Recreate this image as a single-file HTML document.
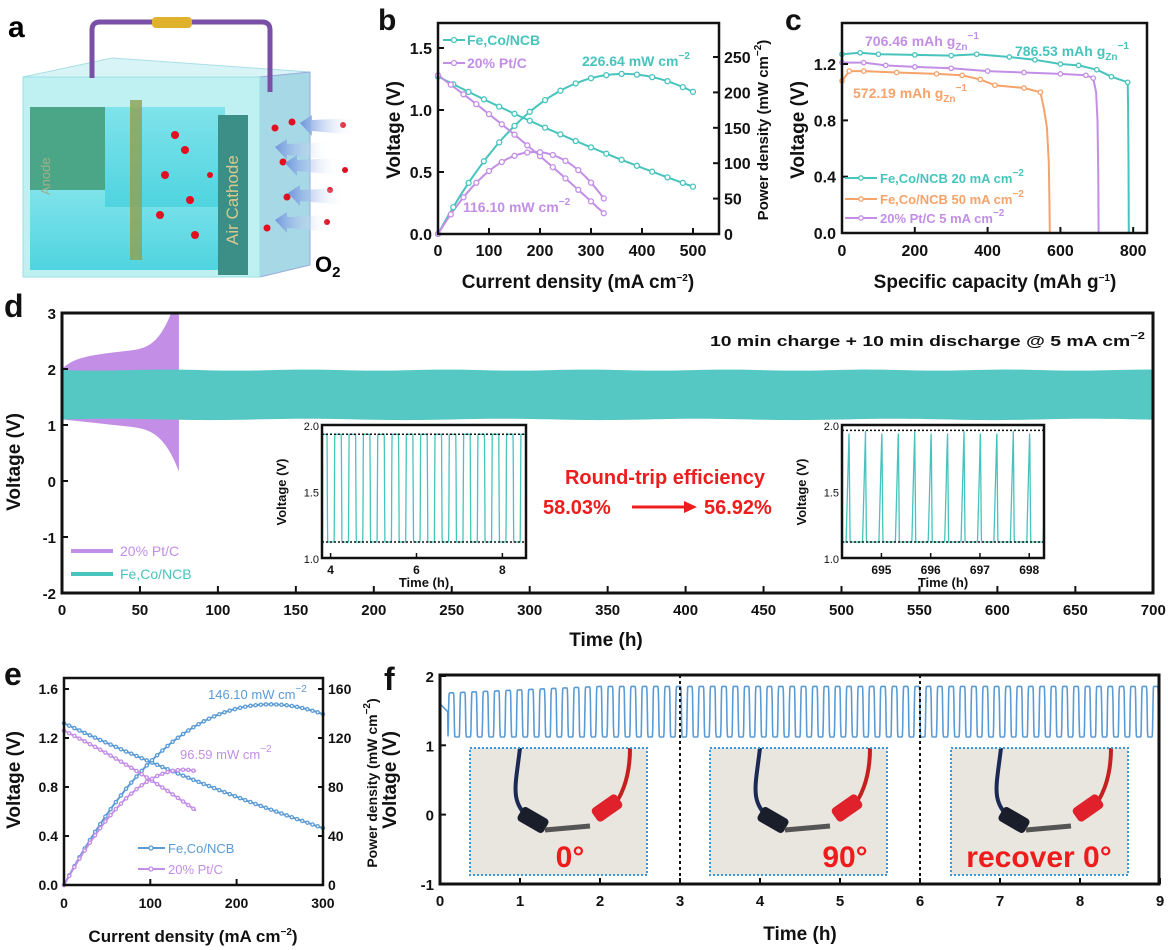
<!DOCTYPE html>
<html><head><meta charset="utf-8"><style>
html,body{margin:0;padding:0;background:#fff}
svg{display:block;font-family:"Liberation Sans",Arial,sans-serif;font-weight:bold}
</style></head><body>
<svg id="s" width="1168" height="950" viewBox="0 0 1168 950" xmlns="http://www.w3.org/2000/svg">
<defs>
<linearGradient id="water" x1="0" y1="0" x2="0" y2="1"><stop offset="0" stop-color="#7fe3ea"/><stop offset="1" stop-color="#4fd4e0"/></linearGradient>
<linearGradient id="arr" x1="1" y1="0" x2="0" y2="0"><stop offset="0" stop-color="#fff" stop-opacity="0"/><stop offset="1" stop-color="#6f95dd"/></linearGradient>
</defs>
<!-- Panel a -->
<text x="8" y="37" font-size="30">a</text>
<polygon points="23,77 112,58 310,72 260,77" fill="#d8f4f6" stroke="#a9dfe6"/>
<polygon points="260,77 310,72 310,265 260,277" fill="#a7d8e6" stroke="#9ad"/>
<rect x="23" y="77" width="237" height="200" fill="#bff0f2" stroke="#9adfe6"/>
<rect x="30" y="107" width="75" height="120" fill="#3e9d7c" opacity="0.9"/>
<rect x="30" y="190" width="200" height="80" fill="url(#water)"/>
<rect x="105" y="107" width="120" height="100" fill="url(#water)"/>
<rect x="130" y="100" width="12" height="160" fill="#8fa050" opacity="0.8"/>
<rect x="218" y="115" width="30" height="160" fill="#3c8f86"/>
<path d="M92 78 V30 Q92 22 100 22 H262 Q270 22 270 30 V92" fill="none" stroke="#7a4fa6" stroke-width="5"/>
<rect x="152" y="17" width="40" height="11" rx="4" fill="#e0b22c"/>
<text transform="translate(50,195) rotate(-90)" font-size="13" font-weight="normal" fill="#9fb08a">Anode</text>
<text transform="translate(238,245) rotate(-90)" font-size="17" font-weight="normal" fill="#d7c991">Air Cathode</text>
<g fill="#e01020">
<circle cx="175" cy="135" r="4"/><circle cx="185" cy="150" r="4"/><circle cx="165" cy="175" r="4"/><circle cx="190" cy="200" r="4"/><circle cx="160" cy="215" r="4"/><circle cx="195" cy="235" r="4"/><circle cx="210" cy="175" r="3"/>
<circle cx="275" cy="128" r="3.5"/><circle cx="292" cy="122" r="3.5"/><circle cx="283" cy="162" r="3.5"/><circle cx="287" cy="197" r="3.5"/><circle cx="267" cy="228" r="3.5"/>
<circle cx="343" cy="125" r="3"/><circle cx="345" cy="170" r="3"/><circle cx="330" cy="190" r="3"/><circle cx="327" cy="222" r="3"/></g>
<g fill="url(#arr)">
<polygon points="300,123 312,115 312,120 355,118 355,135 312,131 312,136"/>
<polygon points="275,147 287,139 287,144 330,142 330,159 287,155 287,160"/>
<polygon points="285,163 297,155 297,160 340,158 340,175 297,171 297,176"/>
<polygon points="288,193 300,185 300,190 345,188 345,205 300,201 300,206"/>
<polygon points="275,220 287,212 287,217 330,215 330,232 287,228 287,233"/>
</g>
<text x="315" y="272" font-size="22">O<tspan font-size="15" dy="5">2</tspan></text>
<g id="plots"></g>
</svg>
<script>
const S=document.getElementById('plots');let H='';
const ad=s=>{H+=s};
function txt(x,y,t,o){o=o||{};ad(`<text x="${x}" y="${y}" font-size="${o.fs||16}" fill="${o.c||'#111'}" text-anchor="${o.a||'start'}"${o.tl?` textLength="${o.tl}" lengthAdjust="spacingAndGlyphs"`:''}${o.rot?` transform="rotate(${o.rot} ${x} ${y})"`:''}${o.fw?` font-weight="${o.fw}"`:''}>${t}</text>`)}
function path(pts,c,w,ex){ad(`<path d="M${pts.map(p=>p[0].toFixed(1)+' '+p[1].toFixed(1)).join('L')}" fill="none" stroke="${c}" stroke-width="${w||2}" stroke-linejoin="round" ${ex||''}/>`)}
function marks(pts,c,r){pts.forEach(p=>ad(`<circle cx="${p[0].toFixed(1)}" cy="${p[1].toFixed(1)}" r="${r||2.5}" fill="#fff" stroke="${c}" stroke-width="1.3"/>`))}
function box(x0,y0,x1,y1,w){ad(`<rect x="${x0}" y="${y0}" width="${x1-x0}" height="${y1-y0}" fill="none" stroke="#111" stroke-width="${w||2.5}"/>`)}
const TE='#47c4bd',PU='#c38ee6',OR='#f5a36a',BL='#5b9bd5';
const sup=s=>`<tspan font-size="10" dy="-7">${s}</tspan>`;

// ===== Panel b =====
{const X=i=>438+i*0.51,Yv=v=>234-v*124,Yp=p=>234-p*0.708;
txt(378,30,'b',{fs:30});
let a=[],b=[],c=[],d=[],ma=[],mb=[],mc=[],md=[];
const fv=i=>1.27-0.0021*i+6.5e-7*i*i, pv=i=>1.28-0.003*i-1.3e-6*i*i;
for(let i=0;i<=500;i+=5){a.push([X(i),Yv(fv(i))]);b.push([X(i),Yp(i*fv(i)*1.05)]);if(i%30==0||i==500){ma.push(a[a.length-1]);mb.push(b[b.length-1]);}}
for(let i=0;i<=325;i+=5){c.push([X(i),Yv(pv(i))]);d.push([X(i),Yp(i*pv(i)*0.92)]);if(i%25==0||i==325){mc.push(c[c.length-1]);md.push(d[d.length-1]);}}
path(a,TE);path(b,TE);path(c,PU);path(d,PU);marks(ma,TE);marks(mb,TE);marks(mc,PU);marks(md,PU);
box(438,23,719,234);
[[0,'0.0'],[0.5,'0.5'],[1,'1.0'],[1.5,'1.5']].forEach(([v,l])=>{ad(`<line x1="438" x2="444" y1="${Yv(v)}" y2="${Yv(v)}" stroke="#111" stroke-width="2"/>`);txt(432,Yv(v)+6,l,{a:'end'})});
[0,50,100,150,200,250].forEach(p=>{ad(`<line x1="719" x2="713" y1="${Yp(p)}" y2="${Yp(p)}" stroke="#111" stroke-width="2"/>`);txt(724,Yp(p)+6,p)});
[0,100,200,300,400,500].forEach(i=>{ad(`<line x1="${X(i)}" x2="${X(i)}" y1="234" y2="228" stroke="#111" stroke-width="2"/>`);txt(X(i),256,i,{a:'middle'})});
txt(578,288,'Current density (mA cm'+sup('−2')+'<tspan dy="7">)</tspan>',{fs:19,a:'middle'});
txt(400,130,'Voltage (V)',{fs:19,a:'middle',rot:-90});
txt(768,130,'Power density (mW cm'+sup('−2')+'<tspan dy="7">)</tspan>',{fs:15,a:'middle',rot:-90});
path([[443,40],[465,40]],TE);marks([[454,40]],TE);txt(467,45,'Fe,Co/NCB',{fs:14,c:TE});
path([[443,63],[465,63]],PU);marks([[454,63]],PU);txt(467,68,'20% Pt/C',{fs:14,c:PU});
txt(582,66,'226.64 mW cm'+sup('−2'),{fs:14,c:TE});
txt(463,212,'116.10 mW cm'+sup('−2'),{fs:14,c:PU});
}
// ===== Panel c =====
{const X=c=>842+c*0.364,Y=v=>233-v*140.8;
txt(785,30,'c',{fs:30});
const te=[[0,1.27],[50,1.28],[100,1.27],[200,1.265],[300,1.26],[370,1.27],[460,1.25],[530,1.23],[600,1.2],[650,1.19],[700,1.16],[740,1.11],[785,1.07]];
const tef=[[785,1.07],[786,0.9],[787,0.5],[788,0]];
const orx=[[0,1.08],[20,1.15],[60,1.15],[150,1.14],[260,1.13],[330,1.12],[380,1.09],[420,1.05],[500,1.03],[545,1.0]];
const orf=[[545,1.0],[555,0.88],[563,0.75],[568,0.5],[570,0.2],[571,0]];
const pu=[[0,1.21],[60,1.21],[120,1.19],[200,1.18],[300,1.17],[400,1.15],[500,1.14],[600,1.13],[670,1.12],[690,1.1]];
const puf=[[690,1.1],[698,1.0],[702,0.8],[704,0.4],[705,0]];
[[orx,orf,OR],[pu,puf,PU],[te,tef,TE]].forEach(([m,f,col])=>{const p=m.map(q=>[X(q[0]),Y(q[1])]);path(p.concat(f.map(q=>[X(q[0]),Y(q[1])])),col);marks(p,col,2.2)});
box(842,23,1147,233);
[[0,'0.0'],[0.4,'0.4'],[0.8,'0.8'],[1.2,'1.2']].forEach(([v,l])=>{ad(`<line x1="842" x2="848" y1="${Y(v)}" y2="${Y(v)}" stroke="#111" stroke-width="2"/>`);txt(836,Y(v)+6,l,{a:'end'})});
[0,200,400,600,800].forEach(c=>{ad(`<line x1="${X(c)}" x2="${X(c)}" y1="233" y2="227" stroke="#111" stroke-width="2"/>`);txt(X(c),256,c,{a:'middle'})});
txt(995,288,'Specific capacity (mAh g'+sup('−1')+'<tspan dy="7">)</tspan>',{fs:19,a:'middle'});
txt(804,130,'Voltage (V)',{fs:19,a:'middle',rot:-90});
txt(865,46,'706.46 mAh g<tspan font-size="10" dy="4">Zn</tspan><tspan font-size="10" dy="-11">−1</tspan>',{fs:14,c:PU});
txt(1015,56,'786.53 mAh g<tspan font-size="10" dy="4">Zn</tspan><tspan font-size="10" dy="-11">−1</tspan>',{fs:14,c:TE});
txt(853,98,'572.19 mAh g<tspan font-size="10" dy="4">Zn</tspan><tspan font-size="10" dy="-11">−1</tspan>',{fs:14,c:OR});
[[178,TE,'Fe,Co/NCB 20 mA cm'],[199,OR,'Fe,Co/NCB 50 mA cm'],[218,PU,'20% Pt/C 5 mA cm']].forEach(([y,col,t])=>{path([[845,y],[877,y]],col);marks([[861,y]],col,2.2);txt(880,y+5,t+sup('−2'),{fs:13,c:col})});
}
// ===== Panel d =====
{const X=t=>62+t*1.559,Y=v=>481-v*56;
txt(4,317,'d',{fs:32});
let up=[],lo=[];
for(let t=0;t<=75;t+=0.5){let e=t>40?Math.pow(t-40,3.5):0;let u=2.0+0.2*(1-Math.exp(-t/8))+0.003*t+4e-6*e;let l=1.1-0.003*t-2.8e-6*e;up.push([X(t),Y(Math.min(u,3))]);lo.push([X(t),Y(Math.max(l,0.15))])}
ad(`<path d="M${up.map(p=>p.join(' ')).join('L')}L${lo.slice().reverse().map(p=>p.join(' ')).join('L')}Z" fill="${PU}"/>`);
let tu=[],tl=[];for(let t=0;t<=700;t+=5){tu.push([X(t),Y(1.98-0.01*Math.sin(t*0.07))]);tl.push([X(t),Y(1.1+0.012*Math.sin(t*0.05))])}
ad(`<path d="M${tu.map(p=>p.join(' ')).join('L')}L${tl.reverse().map(p=>p.join(' ')).join('L')}Z" fill="#55c8c4"/>`);
box(62,313,1153,593,3);
[3,2,1,0,-1,-2].forEach(v=>{ad(`<line x1="62" x2="68" y1="${Y(v)}" y2="${Y(v)}" stroke="#111" stroke-width="2"/>`);txt(56,Y(v)+6,v,{a:'end',fs:15})});
for(let t=0;t<=700;t+=50){ad(`<line x1="${X(t)}" x2="${X(t)}" y1="593" y2="586" stroke="#111" stroke-width="2"/>`);txt(X(t),615,t,{a:'middle',fs:15})}
txt(606,646,'Time (h)',{fs:19,a:'middle'});
txt(20,462,'Voltage (V)',{fs:19,a:'middle',rot:-90});
txt(710,346,'10 min charge + 10 min discharge @ 5 mA cm'+sup('−2'),{fs:15,tl:435});
path([[71,551],[113,551]],PU,4);txt(120,556,'20% Pt/C',{fs:14,c:PU,fw:'normal'});
path([[71,574],[113,574]],TE,4);txt(120,579,'Fe,Co/NCB',{fs:14,c:TE,fw:'normal'});
function inset(x0,x1,t0,t1,ticks,sharp){const IX=t=>x0+(t-t0)*(x1-x0)/(t1-t0),IY=v=>558-(v-1)*133;
ad(`<rect x="${x0}" y="425" width="${x1-x0}" height="133" fill="#fff"/>`);
let p=[];const T=1/3;for(let t=t0;t<=t1;t+=0.004){let ph=((t-t0+0.05)%T)/T;let v;
if(!sharp){v=ph<0.5?(ph<0.04?1.12+0.81*ph/0.04:1.93):(ph<0.54?1.93-0.81*(ph-0.5)/0.04:1.12)}
else{v=ph<0.4?1.12:(ph<0.58?1.12+0.84*(ph-0.4)/0.18:(ph<0.64?1.96-0.84*(ph-0.58)/0.06:1.12));}
p.push([IX(t),IY(v)])}
path(p,TE,1.3);
[sharp?1.96:1.93,1.12].forEach(v=>ad(`<line x1="${x0}" x2="${x1}" y1="${IY(v)}" y2="${IY(v)}" stroke="#111" stroke-width="1.5" stroke-dasharray="2 2"/>`));
box(x0,425,x1,558,2.5);
[[1,'1.0'],[1.5,'1.5'],[2,'2.0']].forEach(([v,l])=>txt(x0-3,IY(v)+5,l,{a:'end',fs:11,fw:'normal'}));
ticks.forEach(t=>{ad(`<line x1="${IX(t)}" x2="${IX(t)}" y1="558" y2="553" stroke="#111" stroke-width="1.5"/>`);txt(IX(t),574,t,{a:'middle',fs:12})});
txt((x0+x1)/2,587,'Time (h)',{a:'middle',fs:13});
txt(x0-36,492,'Voltage (V)',{a:'middle',fs:13,rot:-90});}
inset(322,526,3.8,8.55,[4,6,8],false);
inset(842,1044,694.2,698.3,[695,696,697,698],true);
txt(665,484,'Round-trip efficiency',{fs:20,a:'middle',c:'#ee1c1c'});
txt(543,514,'58.03%',{fs:20,c:'#ee1c1c'});txt(704,514,'56.92%',{fs:20,c:'#ee1c1c'});
ad(`<line x1="632" y1="507" x2="684" y2="507" stroke="#ee1c1c" stroke-width="3"/><polygon points="684,501 697,507 684,513" fill="#ee1c1c"/>`);
}
// ===== Panel e =====
{const X=i=>64+i*0.863,Yv=v=>885-v*122.5,Yp=p=>885-p*1.225;
txt(4,685,'e',{fs:32});
let a=[],b=[],c=[],d=[];const fv=i=>1.32-0.0033*i+1.5e-6*i*i,pv=i=>1.26-0.0035*i-5e-6*i*i;
for(let i=0;i<=300;i+=3){a.push([X(i),Yv(fv(i))]);b.push([X(i),Yp(i*fv(i))])}
for(let i=0;i<=155;i+=3){c.push([X(i),Yv(pv(i))]);d.push([X(i),Yp(i*pv(i))])}
[[a,BL],[b,BL],[c,PU],[d,PU]].forEach(([p,col])=>{path(p,col,2);marks(p.filter((_,k)=>k%2==0),col,1.6)});
box(64,678,323,885);
[[0,'0.0'],[0.4,'0.4'],[0.8,'0.8'],[1.2,'1.2'],[1.6,'1.6']].forEach(([v,l])=>{ad(`<line x1="64" x2="69" y1="${Yv(v)}" y2="${Yv(v)}" stroke="#111" stroke-width="2"/>`);txt(58,Yv(v)+5,l,{a:'end',fs:14})});
[0,40,80,120,160].forEach(p=>{ad(`<line x1="323" x2="318" y1="${Yp(p)}" y2="${Yp(p)}" stroke="#111" stroke-width="2"/>`);txt(328,Yp(p)+5,p,{fs:14})});
[0,100,200,300].forEach(i=>{ad(`<line x1="${X(i)}" x2="${X(i)}" y1="885" y2="879" stroke="#111" stroke-width="2"/>`);txt(X(i),908,i,{a:'middle',fs:14})});
txt(193,942,'Current density (mA cm'+sup('−2')+'<tspan dy="7">)</tspan>',{fs:17,a:'middle'});
txt(20,780,'Voltage (V)',{fs:19,a:'middle',rot:-90});
txt(377,783,'Power density (mW cm'+sup('−2')+'<tspan dy="7">)</tspan>',{fs:14,a:'middle',rot:-90});
txt(208,699,'146.10  mW cm'+sup('−2'),{fs:13,c:BL,fw:'normal'});
txt(180,759,'96.59  mW cm'+sup('−2'),{fs:13,c:PU,fw:'normal'});
path([[138,848],[165,848]],BL);marks([[151,848]],BL,2);txt(168,853,'Fe,Co/NCB',{fs:13,c:BL,fw:'normal'});
path([[138,869],[165,869]],PU);marks([[151,869]],PU,2);txt(168,874,'20% Pt/C',{fs:13,c:PU,fw:'normal'});
}
// ===== Panel f =====
{const X=t=>440+t*80,Y=v=>676+(2-v)*69.3;
txt(384,690,'f',{fs:32});
let p=[];const T=0.142;
for(let t=0;t<=9;t+=0.004){let v;if(t<0.1){v=1.6-1.2*t}else{let ph=((t-0.1)%T)/T;let s=Math.tanh(6*Math.sin(2*Math.PI*ph-0.3));let hi=1.75+0.1*Math.min(1,t/2);v=1.12+(hi-1.12)*(s+1)/2}p.push([X(t),Y(v)])}
path(p,BL,1.6);
box(440,675,1159,884,3);
[3,6].forEach(t=>ad(`<line x1="${X(t)}" x2="${X(t)}" y1="675" y2="884" stroke="#111" stroke-width="2" stroke-dasharray="3 3"/>`));
[[2,'2'],[1,'1'],[0,'0'],[-1,'-1']].forEach(([v,l])=>{ad(`<line x1="440" x2="446" y1="${Y(v)}" y2="${Y(v)}" stroke="#111" stroke-width="2"/>`);txt(434,Y(v)+6,l,{a:'end',fs:15})});
for(let t=0;t<=9;t++){ad(`<line x1="${X(t)}" x2="${X(t)}" y1="884" y2="878" stroke="#111" stroke-width="2"/>`);txt(X(t),906,t,{a:'middle',fs:15})}
txt(800,940,'Time (h)',{fs:19,a:'middle'});
txt(396,780,'Voltage (V)',{fs:19,a:'middle',rot:-90});
[[470,'0°'],[710,'90°'],[951,'recover 0°']].forEach(([x,l],k)=>{
ad(`<rect x="${x}" y="748" width="177" height="127" fill="#e9e6df"/>`);
ad(`<path d="M${x+50} 748 C${x+45} 790 ${x+40} 800 ${x+60} 820" stroke="#1b2a55" stroke-width="4" fill="none"/>`);
ad(`<rect x="${x+48}" y="812" width="30" height="16" rx="4" fill="#1a1d2a" transform="rotate(30 ${x+63} 820)"/>`);
ad(`<path d="M${x+160} 748 C${x+160} 780 ${x+150} 800 ${x+140} 810" stroke="#c52020" stroke-width="4" fill="none"/>`);
ad(`<rect x="${x+122}" y="800" width="30" height="16" rx="4" fill="#e0202a" transform="rotate(-35 ${x+137} 808)"/>`);
ad(`<path d="M${x+75} 830 L${x+120} 826" stroke="#555" stroke-width="5"/>`);
ad(`<rect x="${x}" y="748" width="177" height="127" fill="none" stroke="#3a9ad9" stroke-width="2" stroke-dasharray="2 2"/>`);
txt(x+(k==2?88:k==1?135:100),867,l,{fs:30,c:'#ee1c1c',a:'middle'});
});
}
S.innerHTML=H;
</script>
</body></html>
